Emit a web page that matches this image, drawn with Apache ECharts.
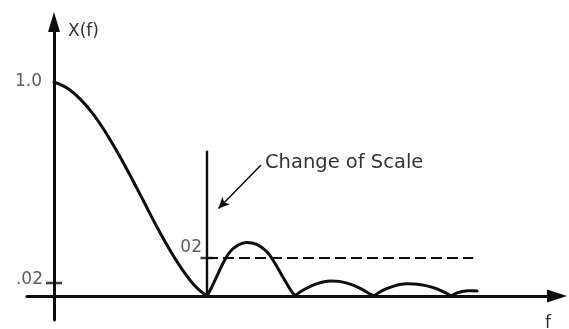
<!DOCTYPE html>
<html>
<head>
<meta charset="utf-8">
<script src="https://cdn.jsdelivr.net/npm/echarts@6/dist/echarts.min.js"></script>
<style>
  html, body { margin: 0; padding: 0; background: #fff; }
  #chart { width: 569px; height: 329px; }
</style>
</head>
<body>
<div id="chart"></div>
<script>
// Main lobe of X(f), drawn on the full scale (f normalised so the first zero is at 1)
const mainF = [0, 0.085, 0.170, 0.255, 0.340, 0.425, 0.510, 0.595, 0.680, 0.765, 0.850, 0.928, 1.0];
const mainX = [1.0, 0.972, 0.921, 0.851, 0.762, 0.659, 0.547, 0.430, 0.313, 0.206, 0.112, 0.042, 0];

// Side lobes, drawn on the expanded scale after the change of scale
const lobe1F = [1.0, 1.033, 1.063, 1.107, 1.150, 1.194, 1.260, 1.325, 1.390, 1.433, 1.488, 1.536, 1.575];
const lobe1X = [0, 0.0050, 0.0102, 0.0176, 0.0232, 0.0263, 0.0281, 0.0272, 0.0234, 0.0187, 0.0111, 0.0045, 0];
const lobe2F = [1.575, 1.608, 1.654, 1.706, 1.758, 1.811, 1.863, 1.915, 1.967, 2.020, 2.059, 2.092];
const lobe2X = [0, 0.0021, 0.0042, 0.0061, 0.0074, 0.0079, 0.0077, 0.0068, 0.0053, 0.0032, 0.0013, 0];
const lobe3F = [2.092, 2.124, 2.170, 2.216, 2.261, 2.307, 2.353, 2.399, 2.444, 2.490, 2.536, 2.569, 2.595];
const lobe3X = [0, 0.0018, 0.0037, 0.0051, 0.0060, 0.0064, 0.0063, 0.0059, 0.0052, 0.0041, 0.0026, 0.0013, 0];
const lobe4F = [2.595, 2.634, 2.667, 2.699, 2.732, 2.765];
const lobe4X = [0, 0.0016, 0.0024, 0.0027, 0.0028, 0.0026];

// Tick marks on the X(f) axis
const leftTickValues = [1.0, 0.0607];
const leftTickLabels = ['1.0', '.02'];

// Reference level on the expanded scale and the change-of-scale marker
const refLevel = 0.02;
const refLabel = '02';
const refEndF = 2.74;
const scaleChangeF = 1.0;
const scaleChangeTop = 0.0765;

const INK = '#0d0d0d';
const TEXT = '#333';
const FONT = '"DejaVu Sans", "Liberation Sans", sans-serif';

const zip = (xs, ys) => xs.map((x, i) => [x, ys[i]]);

const curve = (data, yAxisIndex) => ({
  type: 'line',
  yAxisIndex,
  data,
  smooth: 0.35,
  showSymbol: false,
  symbol: 'none',
  lineStyle: { color: INK, width: 3, cap: 'round', join: 'round' },
  silent: true,
  z: 5
});

const chart = echarts.init(document.getElementById('chart'), null, { renderer: 'canvas' });

chart.setOption({
  animation: false,
  backgroundColor: '#fff',
  grid: { left: 27, right: 12, top: 22, bottom: 9 },
  xAxis: {
    type: 'value',
    min: -0.17647,
    max: 3.28758,
    axisLine: {
      onZero: true,
      symbol: ['none', 'triangle'],
      symbolSize: [13, 20],
      lineStyle: { color: INK, width: 3 }
    },
    axisTick: { show: false },
    axisLabel: { show: false },
    splitLine: { show: false }
  },
  yAxis: [
    {
      type: 'value',
      min: -0.11215,
      max: 1.28037,
      axisLine: {
        onZero: true,
        symbol: ['none', 'triangle'],
        symbolSize: [12, 20],
        lineStyle: { color: INK, width: 3 }
      },
      axisTick: { show: false },
      axisLabel: { show: false },
      splitLine: { show: false }
    },
    {
      type: 'value',
      show: false,
      min: -0.012632,
      max: 0.144211,
      splitLine: { show: false }
    }
  ],
  series: [
    curve(zip(mainF, mainX), 0),
    curve(zip(lobe1F, lobe1X), 1),
    curve(zip(lobe2F, lobe2X), 1),
    curve(zip(lobe3F, lobe3X), 1),
    curve(zip(lobe4F, lobe4X), 1),
    // dashed reference level on the expanded scale
    {
      type: 'line',
      yAxisIndex: 1,
      data: [[scaleChangeF, refLevel], [refEndF, refLevel]],
      symbol: 'none',
      lineStyle: { color: INK, width: 2.2, type: [11, 5] },
      silent: true,
      z: 4
    },
    // vertical line marking the change of scale, with its pointer
    {
      type: 'line',
      yAxisIndex: 1,
      data: [[scaleChangeF, 0], [scaleChangeF, scaleChangeTop]],
      symbol: 'none',
      lineStyle: { color: INK, width: 2.4 },
      silent: true,
      z: 4,
      markLine: {
        silent: true,
        animation: false,
        symbol: ['none', 'arrow'],
        symbolSize: [8, 11],
        label: { show: false },
        lineStyle: { color: INK, width: 1.5, type: 'solid' },
        data: [[{ coord: [1.353, 0.0689] }, { coord: [1.075, 0.0461] }]]
      }
    },
    // tick and label on the X(f) axis
    {
      type: 'scatter',
      yAxisIndex: 0,
      symbol: 'rect',
      symbolSize: [16, 2.5],
      silent: true,
      z: 6,
      data: [
        {
          value: [0, leftTickValues[0]],
          itemStyle: { color: 'transparent' },
          label: { position: [-4, 1.25] }
        },
        {
          value: [0, leftTickValues[1]],
          label: { position: [-3, -2] }
        }
      ],
      itemStyle: { color: INK },
      label: {
        show: true,
        align: 'right',
        verticalAlign: 'middle',
        color: TEXT,
        fontFamily: FONT,
        fontSize: 17,
        formatter: (p) => leftTickLabels[p.dataIndex]
      }
    },
    // tick and label for the reference level on the expanded scale
    {
      type: 'scatter',
      yAxisIndex: 1,
      symbol: 'rect',
      symbolSize: [13, 2.5],
      silent: true,
      z: 6,
      data: [[scaleChangeF, refLevel]],
      itemStyle: { color: INK },
      label: {
        show: true,
        position: [1.5, -9.5],
        align: 'right',
        verticalAlign: 'middle',
        color: TEXT,
        fontFamily: FONT,
        fontSize: 17,
        formatter: () => refLabel
      }
    }
  ],
  graphic: [
    {
      type: 'text',
      x: 68, y: 32,
      style: { text: 'X(f)', fill: TEXT, font: '17px ' + FONT, align: 'left', verticalAlign: 'middle' }
    },
    {
      type: 'text',
      x: 548, y: 324,
      style: { text: 'f', fill: TEXT, font: '17px ' + FONT, align: 'center', verticalAlign: 'middle' }
    },
    {
      type: 'text',
      x: 265, y: 163,
      style: { text: 'Change of Scale', fill: TEXT, font: '19.5px ' + FONT, align: 'left', verticalAlign: 'middle' }
    }
  ]
});
</script>
</body>
</html>
